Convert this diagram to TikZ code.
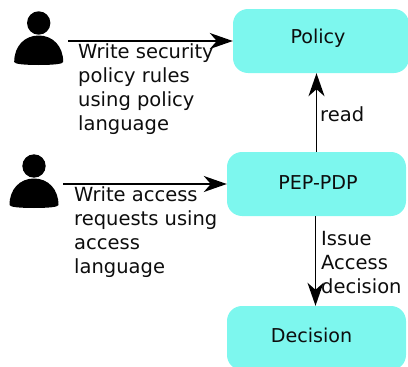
\documentclass[tikz,border=0pt]{standalone}
\usepackage{fontspec}
\setmainfont{DejaVu Sans}
\usetikzlibrary{arrows.meta}
\tikzset{
  x=1pt,y=-1pt,
  box/.style={draw=none,fill=boxcyan,rounded corners=15pt,inner sep=0pt},
  boxtext/.style={font=\fontsize{19.1}{19.1}\selectfont,anchor=base,inner sep=0pt,text=black!95},
  lbl/.style={inner sep=0pt,anchor=base west,align=left,font=\fontsize{19.5}{23.8}\selectfont,text=black!95},
  conn/.style={line width=1.5pt,-{Stealth[length=23pt,width=16pt,inset=7pt]}},
  personshape/.pic={
    \fill[black] (0,0) circle[radius=11.7pt];
    \fill[black] (-24.5,39) .. controls (-24.5,23) and (-14,12.5) .. (0,12.5)
       .. controls (14,12.5) and (24.5,23) .. (24.5,39)
       .. controls (24.5,41) and (14,42) .. (0,42)
       .. controls (-14,42) and (-24.5,41) .. (-24.5,39) -- cycle;
  }
}
\definecolor{boxcyan}{HTML}{7DF7EE}
\begin{document}
\begin{tikzpicture}
\useasboundingbox (0,0) rectangle (408,367);
\begin{scope}
\clip (0,0) rectangle (408,367);
\node[box,minimum width=176pt,minimum height=64pt] (policy) at (321,41) {};
\node[box,minimum width=179pt,minimum height=64pt] (pep) at (316.5,184) {};
\node[box,minimum width=179pt,minimum height=64pt] (decision) at (316.5,338) {};
\end{scope}
\node[boxtext] (policytext) at (318,43.5) {Policy};
\node[boxtext] (peptext) at (318,189.5) {PEP-PDP};
\node[boxtext] (decisiontext) at (311.5,342.5) {Decision};
\pic at (38.7,23) {personshape};
\pic at (34,166) {personshape};
\coordinate (u1) at (68,41);
\coordinate (u2) at (63,184);
\coordinate (r1) at ([xshift=-1pt]pep.south);
\draw[conn] (u1) -- (u1 -| policy.west);
\draw[conn] (u2) -- (u2 -| pep.west);
\draw[conn] (pep.north) -- (policy.south -| pep.north);
\draw[conn] (r1) -- (r1 |- decision.north);
\node[lbl] (t1) at (78,130) {Write security\\policy rules\\using policy\\language};
\node[lbl] (t2) at (74,273) {Write access\\requests using\\access\\language};
\node[lbl] (t3) at (320,121.5) {read};
\node[lbl] (t4) at (321,293) {Issue\\Access\\decision};
\end{tikzpicture}
\end{document}
